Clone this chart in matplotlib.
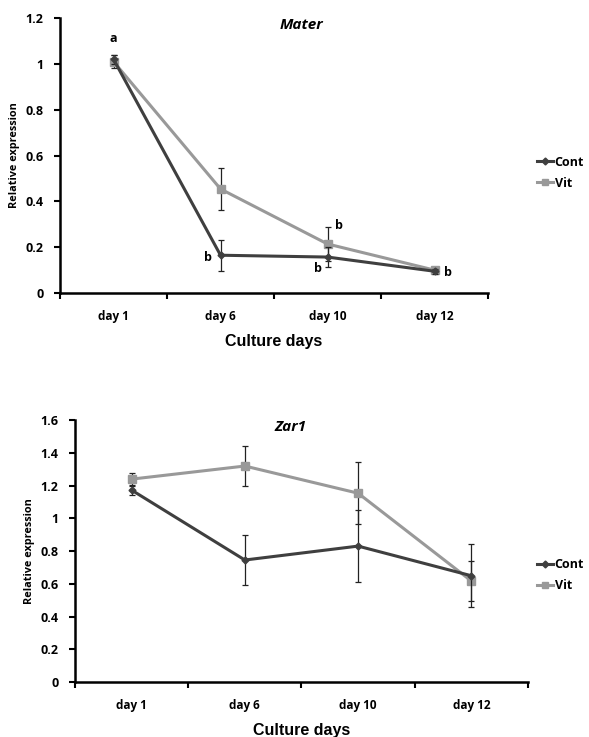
"""
Relative expression of Mater and Zar1 over culture days.
"""
import matplotlib
matplotlib.use("Agg")
import matplotlib.pyplot as plt
from matplotlib.lines import Line2D

days = ["day 1", "day 6", "day 10", "day 12"]

mater_cont = [1.02, 0.165, 0.157, 0.095]
mater_cont_err = [0.02, 0.068, 0.045, 0.01]
mater_vit = [1.01, 0.454, 0.214, 0.10]
mater_vit_err = [0.03, 0.09, 0.075, 0.01]

zar1_cont = [1.172, 0.745, 0.830, 0.649]
zar1_cont_err = [0.03, 0.155, 0.218, 0.193]
zar1_vit = [1.239, 1.319, 1.153, 0.617]
zar1_vit_err = [0.04, 0.125, 0.19, 0.125]

mater_yticks = ["0", "0.2", "0.4", "0.6", "0.8", "1", "1.2"]
zar1_yticks = ["0", "0.2", "0.4", "0.6", "0.8", "1", "1.2", "1.4", "1.6"]

# significance letters: (text, series, day index)
mater_letters = [
    ("a", "Cont", 0),
    ("b", "Cont", 1),
    ("b", "Vit", 2),
    ("b", "Cont", 2),
    ("b", "Vit", 3),
]

CONT_COLOR = "#3f3f3f"
VIT_COLOR = "#999999"
FONT = "Open Sans"


def plot_panel(fig, ax, cont, cont_err, vit, vit_err, title, yticks,
               title_x, legend_xy):
    x = list(range(len(days)))
    ax.errorbar(x, cont, yerr=cont_err, color=CONT_COLOR, lw=2.2,
                marker="D", ms=3.5, ecolor="#222222", elinewidth=0.9,
                capsize=2, capthick=0.9, zorder=3)
    ax.errorbar(x, vit, yerr=vit_err, color=VIT_COLOR, lw=2.2,
                marker="s", ms=6, ecolor="#222222", elinewidth=0.9,
                capsize=2, capthick=0.9, zorder=2)

    yvals = [float(t) for t in yticks]
    ax.set_xlim(-0.5, len(days) - 0.5)
    ax.set_ylim(0, yvals[-1])
    ax.set_xticks(x)
    ax.set_xticklabels(days, fontfamily=FONT, fontweight="bold", fontsize=8.5)
    ax.set_xticks([i - 0.5 for i in range(len(days) + 1)], minor=True)
    ax.tick_params(axis="x", which="major", length=0, pad=12)
    ax.tick_params(axis="x", which="minor", length=4, width=1.5, direction="out")
    ax.set_yticks(yvals)
    ax.set_yticklabels(yticks, fontfamily=FONT, fontweight="bold", fontsize=9)
    ax.tick_params(axis="y", length=4, width=1.5, direction="out", pad=8)

    for side in ("top", "right"):
        ax.spines[side].set_visible(False)
    for side in ("left", "bottom"):
        ax.spines[side].set_linewidth(1.8)

    ax.set_ylabel("Relative expression", fontfamily=FONT, fontweight="bold",
                  fontsize=7.8, labelpad=4)
    ax.set_xlabel("Culture days", fontfamily="Liberation Sans", fontweight="bold",
                  fontsize=11.5, labelpad=8)
    ax.text(title_x, 1.0, title, transform=ax.transAxes, ha="center", va="top",
            fontfamily=FONT, fontweight="bold", fontstyle="italic", fontsize=11)

    handles = [
        Line2D([], [], color=CONT_COLOR, lw=2.2, marker="D", ms=3.5),
        Line2D([], [], color=VIT_COLOR, lw=2.2, marker="s", ms=5),
    ]
    fig.legend(handles, ["Cont", "Vit"], loc="upper left", bbox_to_anchor=legend_xy,
               frameon=False, handlelength=1.3, handletextpad=0.1,
               prop={"family": FONT, "weight": "bold", "size": 9},
               labelspacing=0.65, borderpad=0, borderaxespad=0)


fig = plt.figure(figsize=(5.89, 7.37), dpi=100)

ax1 = fig.add_axes([0.1019, 0.6024, 0.7267, 0.3731])
plot_panel(fig, ax1, mater_cont, mater_cont_err, mater_vit, mater_vit_err,
           "Mater", mater_yticks, 0.565, (0.912, 0.789))

series = {"Cont": mater_cont, "Vit": mater_vit}
offsets = {
    ("Cont", 0): (0, 15),
    ("Cont", 1): (-9, -2),
    ("Vit", 2): (8, 13),
    ("Cont", 2): (-7, -8),
    ("Vit", 3): (10, -2),
}
for text, name, i in mater_letters:
    ax1.annotate(text, (i, series[name][i]), xytext=offsets[(name, i)],
                 textcoords="offset points", ha="center", va="center",
                 fontfamily=FONT, fontweight="bold", fontsize=9)

ax2 = fig.add_axes([0.1273, 0.0746, 0.7691, 0.3555])
plot_panel(fig, ax2, zar1_cont, zar1_cont_err, zar1_vit, zar1_vit_err,
           "Zar1", zar1_yticks, 0.475, (0.912, 0.243))

fig.savefig("out.png", dpi=100)
